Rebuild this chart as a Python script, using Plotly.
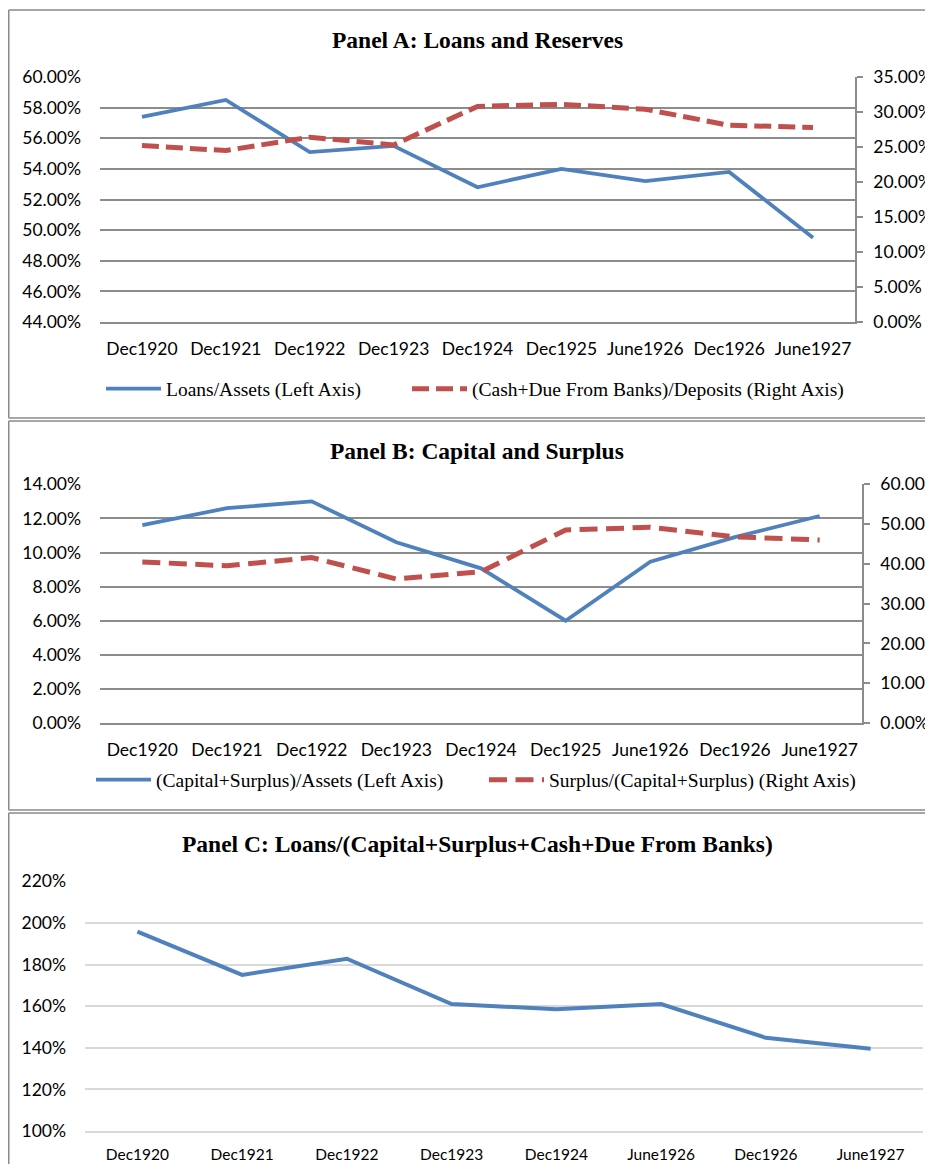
import plotly.graph_objects as go

# --- data ---
dates_ab = ["Dec1920", "Dec1921", "Dec1922", "Dec1923", "Dec1924",
            "Dec1925", "June1926", "Dec1926", "June1927"]
dates_c = ["Dec1920", "Dec1921", "Dec1922", "Dec1923", "Dec1924",
           "June1926", "Dec1926", "June1927"]

loans_to_assets = [0.574, 0.585, 0.551, 0.555, 0.528, 0.540, 0.532, 0.538, 0.495]
cash_to_deposits = [0.252, 0.245, 0.264, 0.253, 0.308, 0.311, 0.304, 0.281, 0.278]

capsur_to_assets = [0.116, 0.126, 0.130, 0.106, 0.0907, 0.060, 0.0946, 0.109, 0.1214]
surplus_to_capsur = [0.405, 0.395, 0.416, 0.362, 0.380, 0.485, 0.492, 0.468, 0.460]

loans_to_reserves = [1.958, 1.750, 1.828, 1.610, 1.585, 1.610, 1.448, 1.395]

BLUE = "#4F81BD"
RED = "#C0504D"
GRID = "#8C8C8C"
# page body has an 8px margin, so the figure sits at (8, 8)
W, H = 925, 1156
OFF = 8

TICK_FONT = dict(family="Lato, Liberation Sans, sans-serif", size=17.5, color="#000")
SERIF = "Liberation Serif, Times New Roman, serif"


def px(x):
    # page pixel -> paper fraction
    return (x - OFF) / W


def py(y):
    return 1 - (y - OFF) / H


fig = go.Figure()

# Panel A
fig.add_scatter(x=dates_ab, y=loans_to_assets, mode="lines", name="Loans/Assets (Left Axis)",
                line=dict(color=BLUE, width=3.8), xaxis="x", yaxis="y", legend="legend")
fig.add_scatter(x=dates_ab, y=cash_to_deposits, mode="lines",
                name="(Cash+Due From Banks)/Deposits (Right Axis)",
                line=dict(color=RED, width=5, dash="17px,7px"), xaxis="x", yaxis="y2",
                legend="legend2")

# Panel B
fig.add_scatter(x=dates_ab, y=capsur_to_assets, mode="lines",
                name="(Capital+Surplus)/Assets (Left Axis)",
                line=dict(color=BLUE, width=3.8), xaxis="x2", yaxis="y3", legend="legend3")
fig.add_scatter(x=dates_ab, y=surplus_to_capsur, mode="lines",
                name="Surplus/(Capital+Surplus) (Right Axis)",
                line=dict(color=RED, width=5, dash="18px,8.5px"), xaxis="x2", yaxis="y4",
                legend="legend4")

# Panel C
fig.add_scatter(x=dates_c, y=loans_to_reserves, mode="lines", showlegend=False,
                line=dict(color=BLUE, width=4), xaxis="x3", yaxis="y5")

xa_common = dict(type="category", showgrid=False, zeroline=False, showline=True,
                 linecolor=GRID, linewidth=1.5, tickfont=TICK_FONT, ticks="",
                 automargin=False, range=[-0.5, 8.5], ticklabelstandoff=10)
ya_left = dict(showgrid=True, gridcolor=GRID, gridwidth=1.5, zeroline=False,
               showline=False, tickfont=TICK_FONT, ticks="", ticklabelstandoff=18,
               automargin=False)
ya_right = dict(showgrid=False, zeroline=False, showline=True, linecolor=GRID,
                linewidth=1.5, ticks="outside", ticklen=6, tickcolor=GRID, tickwidth=1.5,
                tickfont=TICK_FONT, side="right", ticklabelstandoff=7, automargin=False)

leg_common = dict(orientation="h", xanchor="left", yanchor="middle",
                  font=dict(family=SERIF, size=19.5, color="#000"), itemwidth=55,
                  bgcolor="rgba(0,0,0,0)")

fig.update_layout(
    template="none",
    width=W, height=H,
    margin=dict(l=0, r=0, t=0, b=0, autoexpand=False),
    paper_bgcolor="white", plot_bgcolor="white",
    xaxis=dict(xa_common, domain=[px(100), px(855)], anchor="y"),
    yaxis=dict(ya_left, domain=[py(322), py(77)], anchor="x",
               range=[0.44, 0.60], dtick=0.02, tickformat=".2%"),
    yaxis2=dict(ya_right, overlaying="y", anchor="x",
                range=[0.0, 0.35], dtick=0.05, tickformat=".2%"),
    xaxis2=dict(xa_common, domain=[px(100), px(862)], anchor="y3"),
    yaxis3=dict(ya_left, domain=[py(723), py(484.3)], anchor="x2",
                range=[0.0, 0.14], dtick=0.02, tickformat=".2%"),
    yaxis4=dict(ya_right, overlaying="y3", anchor="x2",
                range=[0.0, 0.60], dtick=0.10, tickformat=".2%"),
    xaxis3=dict(type="category", domain=[px(85), px(923)], anchor="y5",
                range=[-0.5, 7.5], showgrid=False, zeroline=False, showline=True,
                linecolor="#D9D9D9", linewidth=1.5, ticks="", automargin=False,
                tickfont=dict(TICK_FONT, size=15.5), ticklabelstandoff=9),
    yaxis5=dict(domain=[py(1131), py(881.3)], anchor="x3", range=[1.0, 2.2], dtick=0.2,
                tickformat=".0%", showgrid=True, gridcolor="#D9D9D9", gridwidth=1.5,
                zeroline=False, showline=False, ticks="", tickfont=TICK_FONT,
                ticklabelstandoff=18, automargin=False),
    legend=dict(leg_common, x=px(101), y=py(389)),
    legend2=dict(leg_common, x=px(407), y=py(389)),
    legend3=dict(leg_common, x=px(91), y=py(780)),
    legend4=dict(leg_common, x=px(484), y=py(780)),
    showlegend=True,
)

titles = [
    ("Panel A: Loans and Reserves", 40),
    ("Panel B: Capital and Surplus", 451),
    ("Panel C: Loans/(Capital+Surplus+Cash+Due From Banks)", 844),
]
for text, ty in titles:
    fig.add_annotation(text=f"<b>{text}</b>", x=px(477), y=py(ty), xref="paper",
                       yref="paper", showarrow=False, xanchor="center", yanchor="middle",
                       font=dict(family=SERIF, size=23.5, color="#000"))

# panel frames (open on the right, where the page cuts them off)
FRAME = dict(color="#8A8A8A", width=1.5)
for y0, y1 in [(10, 418), (421, 810), (813, 1190)]:
    fig.add_shape(type="line", xref="paper", yref="paper", x0=px(8.75), x1=px(8.75),
                  y0=py(y1), y1=py(y0), line=FRAME, layer="below")
    fig.add_shape(type="line", xref="paper", yref="paper", x0=px(8.75), x1=1.0,
                  y0=py(y0), y1=py(y0), line=FRAME, layer="below")
    fig.add_shape(type="line", xref="paper", yref="paper", x0=px(8.75), x1=1.0,
                  y0=py(y1), y1=py(y1), line=FRAME, layer="below")

fig.write_html("out.html")
